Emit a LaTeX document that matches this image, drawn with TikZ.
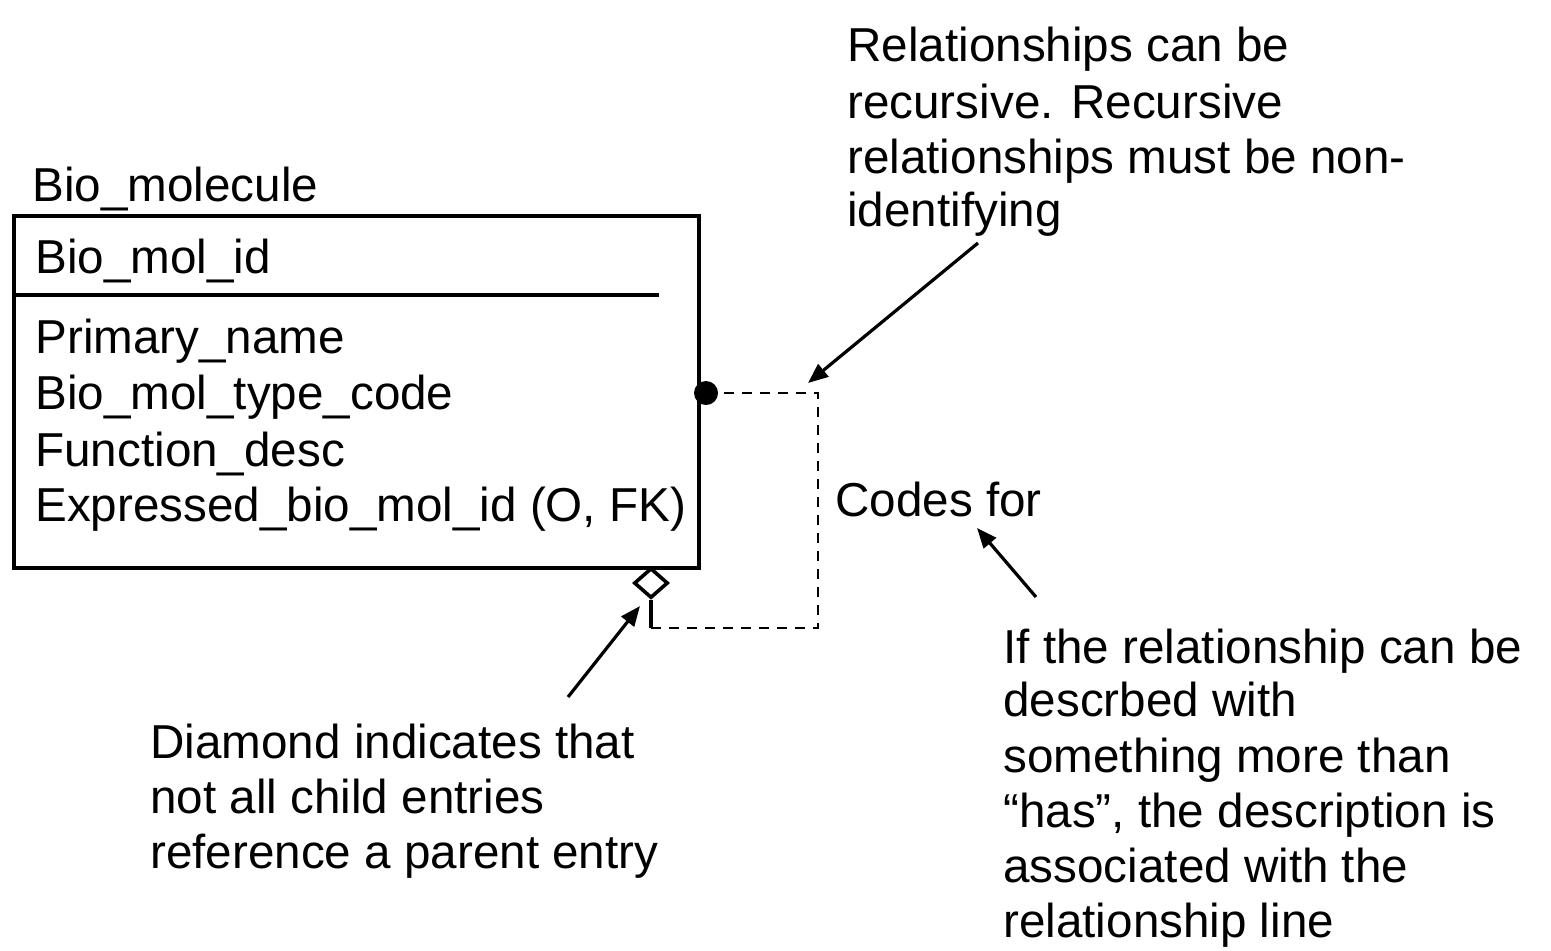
\documentclass[tikz,border=0pt]{standalone}
\usepackage{fontspec}
\setmainfont{Liberation Sans}
\usetikzlibrary{arrows.meta,shapes.geometric}
\begin{document}
\begin{tikzpicture}[x=0.5pt,y=-0.5pt,
  txt/.style={anchor=base west,inner sep=0pt,font=\fontsize{23.8}{27.5}\selectfont},
  arr/.style={line width=1.6pt,-{Triangle[length=10pt,width=8pt]}},
  dsh/.style={line width=1.4pt,dash pattern=on 5pt off 4pt},
  lw/.style={line width=1.8pt}]
\useasboundingbox (0,0) rectangle (1551,950);
% entity box
\node[draw,lw,inner sep=0pt,anchor=north west,minimum width=342.5pt,minimum height=176pt] (box) at (12,214) {};
\coordinate (sepa) at (12,295);
\coordinate (sepb) at (659,295);
\draw[lw] (sepa) -- (sepb);
\node[txt] (title) at (32,201) {Bio\_molecule};
\node[txt] (pk) at (35,273) {Bio\_mol\_id};
\node[txt] (a1) at (35,353) {Primary\_name};
\node[txt] (a2) at (35,409) {Bio\_mol\_type\_code};
\node[txt] (a3) at (35,466) {Function\_desc};
\node[txt] (a4) at (35,521) {Expressed\_bio\_mol\_id (O, FK)};
% recursive relationship
\node[circle,fill,inner sep=0pt,minimum size=12pt] (dot) at (706,393) {};
\node[diamond,draw,lw,inner sep=0pt,minimum width=17pt,minimum height=15pt] (dia) at (651,583) {};
\coordinate (c1) at (818,393);
\coordinate (c2) at (818,628);
\coordinate (c3) at (651,628);
\draw[dsh] (dot.center) -- (c1) -- (c2) -- (c3);
\draw[lw] (dia.south) -- (c3);
\node[txt] (codes) at (835,516) {Codes for};
% notes
\node[txt] (r1) at (847,61) {Relationships can be};
\node[txt] (r2) at (847,118) {recursive. Recursive};
\node[txt] (r3) at (847,173) {relationships must be non-};
\node[txt] (r4) at (847,226) {identifying};
\node[txt] (d1) at (150,758) {Diamond indicates that};
\node[txt] (d2) at (150,813) {not all child entries};
\node[txt] (d3) at (150,868) {reference a parent entry};
\node[txt] (i1) at (1003,663) {If the relationship can be};
\node[txt] (i2) at (1003,716) {descrbed with};
\node[txt] (i3) at (1003,772) {something more than};
\node[txt] (i4) at (1003,827) {“has”, the description is};
\node[txt] (i5) at (1003,882) {associated with the};
\node[txt] (i6) at (1003,937) {relationship line};
% arrows
\coordinate (ra) at (978,243);
\coordinate (rb) at (808,383);
\coordinate (da) at (568,697);
\coordinate (db) at (640,606);
\coordinate (ia) at (1036,597);
\coordinate (ib) at (977,528);
\draw[arr] (ra) -- (rb);
\draw[arr] (da) -- (db);
\draw[arr] (ia) -- (ib);
\end{tikzpicture}
\end{document}
